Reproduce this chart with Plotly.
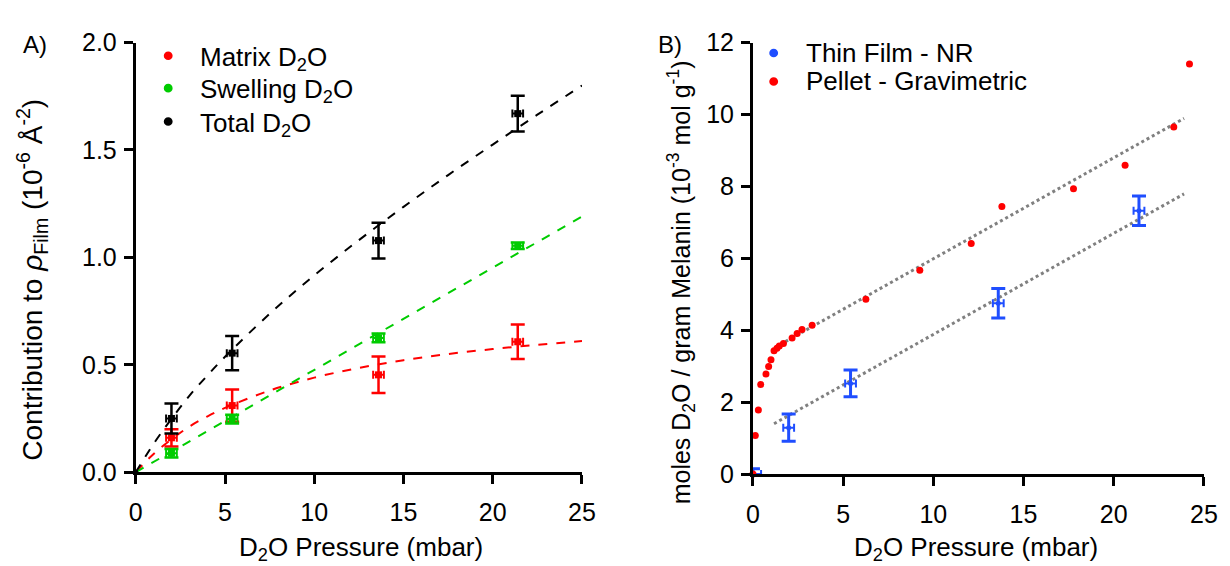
import plotly.graph_objects as go

# ---------------- Panel A data ----------------
pressure_A = [2.0, 5.4, 13.6, 21.4]
matrix_y = [0.16, 0.31, 0.453, 0.607]
matrix_err = [0.04, 0.075, 0.085, 0.08]
swelling_y = [0.088, 0.247, 0.625, 1.054]
swelling_err = [0.02, 0.02, 0.02, 0.015]
total_y = [0.25, 0.554, 1.078, 1.669]
total_err = [0.07, 0.08, 0.083, 0.083]
x_err_A = [0.3, 0.3, 0.3, 0.3]

fit_x_A = [0, 1, 2, 3, 4, 5, 7.5, 10, 12.5, 15, 17.5, 20, 22.5, 25]
matrix_fit = [0, 0.085, 0.153, 0.212, 0.259, 0.299, 0.380, 0.440, 0.485, 0.521, 0.550, 0.573, 0.593, 0.610]
total_fit = [0, 0.132, 0.248, 0.355, 0.449, 0.537, 0.737, 0.916, 1.080, 1.235, 1.383, 1.525, 1.664, 1.800]
swell_fit_x = [0, 25]
swell_fit = [0, 1.19]

legend_A_names = ["Matrix D<sub>2</sub>O", "Swelling D<sub>2</sub>O", "Total D<sub>2</sub>O"]

# ---------------- Panel B data ----------------
film_x = [0, 1.98, 5.41, 13.6, 21.4]
film_y = [0, 1.29, 2.52, 4.75, 7.32]
film_err = [0.15, 0.38, 0.37, 0.41, 0.41]
film_xerr = [0.45, 0.3, 0.3, 0.3, 0.3]

pellet_x = [0, 0.13, 0.3, 0.43, 0.72, 0.87, 1.0, 1.17, 1.33, 1.46, 1.69, 2.17, 2.45, 2.72,
            3.28, 6.26, 9.25, 12.1, 13.8, 17.77, 20.63, 23.33, 24.2]
pellet_y = [0, 1.07, 1.78, 2.49, 2.78, 2.99, 3.18, 3.43, 3.50, 3.56, 3.63, 3.78, 3.91, 4.02,
            4.14, 4.86, 5.67, 6.41, 7.44, 7.93, 8.59, 9.65, 11.40]

upper_fit_x = [1.22, 23.9]
upper_fit_y = [3.52, 9.89]
lower_fit_x = [1.17, 23.9]
lower_fit_y = [1.40, 7.79]

legend_B_names = ["Thin Film - NR", "Pellet - Gravimetric"]

RED = "#FF0000"
GREEN = "#00CC00"
BLACK = "#000000"
BLUE = "#1F4EFF"
GREY = "#808080"
FONT = "Liberation Sans, Arial, sans-serif"
W, H = 1230, 566

fig = go.Figure()

# Panel A fits
fig.add_trace(go.Scatter(x=fit_x_A, y=matrix_fit, mode="lines", line=dict(color=RED, width=2, dash="dash"),
                         name="Matrix fit", showlegend=False, xaxis="x", yaxis="y", line_shape="spline",
                         cliponaxis=False))
fig.add_trace(go.Scatter(x=swell_fit_x, y=swell_fit, mode="lines", line=dict(color=GREEN, width=2, dash="dash"),
                         name="Swelling fit", showlegend=False, xaxis="x", yaxis="y", cliponaxis=False))
fig.add_trace(go.Scatter(x=fit_x_A, y=total_fit, mode="lines", line=dict(color=BLACK, width=2, dash="dash"),
                         name="Total fit", showlegend=False, xaxis="x", yaxis="y", line_shape="spline",
                         cliponaxis=False))


def err_trace(x, y, ey, ex, color, name, xa, ya, size=7, symbol="square", thick=2.5):
    return go.Scatter(
        x=x, y=y, mode="markers", name=name, showlegend=False, xaxis=xa, yaxis=ya,
        marker=dict(color=color, size=size, symbol=symbol),
        error_y=dict(type="data", array=ey, color=color, thickness=thick, width=7),
        error_x=dict(type="data", array=ex, color=color, thickness=2, width=4),
        cliponaxis=False,
    )


fig.add_trace(err_trace(pressure_A, matrix_y, matrix_err, x_err_A, RED, legend_A_names[0], "x", "y"))
fig.add_trace(err_trace(pressure_A, swelling_y, swelling_err, x_err_A, GREEN, legend_A_names[1], "x", "y"))
fig.add_trace(err_trace(pressure_A, total_y, total_err, x_err_A, BLACK, legend_A_names[2], "x", "y"))

# origin point panel A
fig.add_trace(go.Scatter(x=[0], y=[0], mode="markers", marker=dict(color=BLACK, size=5),
                         showlegend=False, xaxis="x", yaxis="y", cliponaxis=False))

# Panel B fits
fig.add_trace(go.Scatter(x=upper_fit_x, y=upper_fit_y, mode="lines", line=dict(color=GREY, width=3, dash="dot"),
                         showlegend=False, xaxis="x2", yaxis="y2"))
fig.add_trace(go.Scatter(x=lower_fit_x, y=lower_fit_y, mode="lines", line=dict(color=GREY, width=3, dash="dot"),
                         showlegend=False, xaxis="x2", yaxis="y2"))

fig.add_trace(err_trace(film_x, film_y, film_err, film_xerr, BLUE, legend_B_names[0], "x2", "y2",
                        size=5, symbol="circle", thick=3))
fig.add_trace(go.Scatter(x=pellet_x, y=pellet_y, mode="markers", name=legend_B_names[1], showlegend=False,
                         marker=dict(color=RED, size=7), xaxis="x2", yaxis="y2", cliponaxis=False))

axis_common = dict(showline=True, linecolor="black", linewidth=3, ticks="outside", ticklen=9, tickwidth=3,
                   tickcolor="black", showgrid=False, zeroline=False,
                   tickfont=dict(family=FONT, size=25, color="black"))

fig.update_layout(
    width=W, height=H,
    margin=dict(l=0, r=0, t=0, b=0),
    paper_bgcolor="white", plot_bgcolor="white",
    font=dict(family=FONT, size=24, color="black"),
    showlegend=False,
    xaxis=dict(domain=[0.1065, 0.4756], range=[0, 25], tickvals=[0, 5, 10, 15, 20, 25], anchor="y",
               ticklabelstandoff=7, **axis_common),
    yaxis=dict(domain=[0.1484, 0.947], range=[0, 2], tickvals=[0, 0.5, 1.0, 1.5, 2.0],
               ticktext=["0.0", "0.5", "1.0", "1.5", "2.0"], anchor="x", ticklabelstandoff=2, **axis_common),
    xaxis2=dict(domain=[0.617, 0.990], range=[0, 25], tickvals=[0, 5, 10, 15, 20, 25], anchor="y2",
                ticklabelstandoff=7, **axis_common),
    yaxis2=dict(domain=[0.1449, 0.947], range=[0, 12], tickvals=[0, 2, 4, 6, 8, 10, 12], anchor="x2",
                ticklabelstandoff=2, **axis_common),
)

annotations = [
    dict(text="A)", x=28, y=32, size=24),
    dict(text="B)", x=675, y=32, size=24),
    dict(text="D<sub>2</sub>O Pressure (mbar)", x=360, y=562, size=26),
    dict(text="D<sub>2</sub>O Pressure (mbar)", x=986, y=562, size=26),
    dict(text="Contribution to <i>ρ</i><sub>Film</sub> (10<sup>-6</sup> Å<sup>-2</sup>)", x=26, y=280,
         textangle=-90, size=28),
    dict(text="moles D<sub>2</sub>O / gram Melanin (10<sup>-3</sup> mol g<sup>-1</sup>)", x=686, y=282,
         textangle=-90, size=25),
]
anns = []
for a in annotations:
    anns.append(dict(text=a["text"], x=a["x"] / W, y=1 - a["y"] / H, xref="paper", yref="paper",
                     showarrow=False, xanchor="center", yanchor="middle", textangle=a.get("textangle", 0),
                     font=dict(family=FONT, size=a["size"], color="black")))

# Legends (drawn as marker dots + labels)
shapes = []
legend_items = [
    (legend_A_names[0], RED, 164, 44, 194),
    (legend_A_names[1], GREEN, 164, 78, 194),
    (legend_A_names[2], BLACK, 164, 113, 194),
    (legend_B_names[0], BLUE, 780, 41, 811),
    (legend_B_names[1], RED, 780, 71, 811),
]
r = 4.5
for name, color, mx, my, tx in legend_items:
    shapes.append(dict(type="circle", xref="paper", yref="paper",
                       x0=(mx - r) / W, x1=(mx + r) / W, y0=1 - (my + r) / H, y1=1 - (my - r) / H,
                       fillcolor=color, line=dict(width=0)))
    dy = 3 if "<sub>" in name else 0
    anns.append(dict(text=name, x=tx / W, y=1 - (my + dy) / H, xref="paper", yref="paper",
                     showarrow=False, xanchor="left", yanchor="middle",
                     font=dict(family=FONT, size=26, color="black")))

fig.update_layout(annotations=anns, shapes=shapes)

fig.write_html("out.html")
